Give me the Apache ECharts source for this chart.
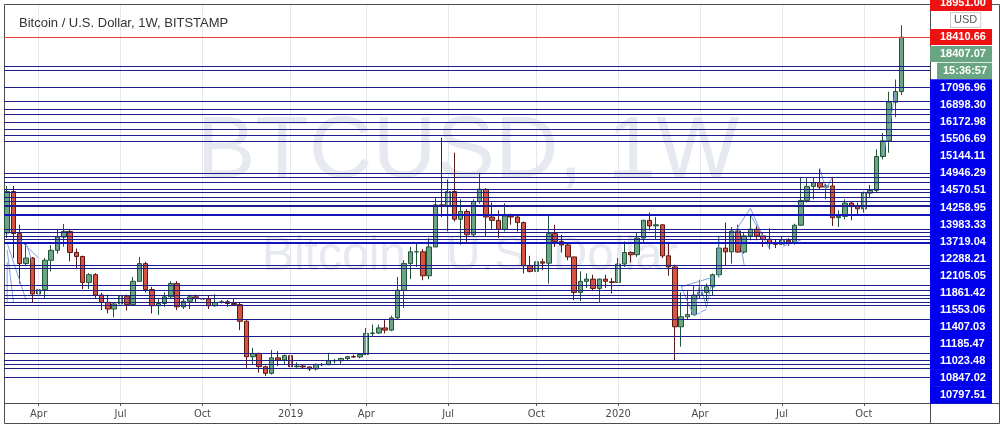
<!DOCTYPE html>
<html><head><meta charset="utf-8">
<script src="https://cdn.jsdelivr.net/npm/echarts@6/dist/echarts.min.js"></script>
<style>html,body{margin:0;padding:0;background:#fff}#c{width:1005px;height:428px}</style>
</head><body><div id="c"></div>
<script>
// ---------- DATA ----------
const firstWeek = '2018-02-26';        // Monday of first weekly bar
const emptyWeeksRight = 4;             // blank space after last bar
// weekly candles [open, close, low, high]
const ohlc = [
 [9580,11450,9350,11700],[11450,9550,8450,11700],[9550,8200,7300,9950],[8200,8450,8100,9180],[8450,6830,6450,8500],
 [6830,7020,6450,7500],[7020,8350,6620,8450],[8350,8800,7850,9030],[8800,9400,8650,9750],[9400,9650,8960,9990],
 [9650,8700,8300,9740],[8700,8520,7950,8880],[8520,7350,7050,8560],[7350,7700,7050,7770],[7700,6780,6650,7770],
 [6780,6450,6100,6880],[6450,6150,5950,6800],[6150,6380,5780,6450],[6380,6730,6250,6800],[6730,6350,6080,6800],
 [6350,7400,6300,7600],[7400,8200,7400,8500],[8200,7030,6900,8280],[7030,6300,5950,7150],[6300,6400,5880,6620],
 [6400,6700,6250,6900],[6700,7300,6650,7400],[7300,6250,6100,7410],[6250,6500,6150,6600],[6500,6700,6150,6800],
 [6700,6620,6450,6800],[6620,6600,6450,6700],[6600,6300,6150,6750],[6300,6450,6250,6820],[6450,6480,6400,6550],
 [6480,6400,6250,6560],[6400,6350,6320,6600],[6350,5600,5200,6450],[5600,4000,3500,5650],[4000,4150,3650,4400],
 [4150,3550,3280,4180],[3550,3250,3130,3600],[3250,3950,3200,4300],[3950,3850,3580,4250],[3850,4050,3650,4100],
 [4050,3550,3450,4100],[3550,3580,3500,3750],[3580,3540,3450,3620],[3540,3450,3350,3560],[3450,3650,3380,3700],
 [3650,3640,3570,3720],[3640,3820,3620,4180],[3820,3820,3700,3900],[3820,3920,3680,3950],[3920,4000,3820,4040],
 [4000,3990,3950,4100],[3990,4100,3930,4150],[4100,5050,4090,5300],[5050,5070,4900,5450],[5070,5300,5030,5450],
 [5300,5200,5050,5650],[5200,5750,5150,5850],[5750,7000,5700,7600],[7000,8200,6200,8350],[8200,8730,7500,8950],
 [8730,8730,8050,9090],[8730,7650,7450,8850],[7650,8950,7500,9350],[8950,10850,8950,11200],[10850,10800,10300,13880],
 [10800,11450,9650,12000],[11450,10200,10100,13200],[10200,10550,9050,11100],[10550,9500,9150,10650],[9500,11000,9400,11100],
 [11000,11550,10900,12300],[11550,10300,9450,11600],[10300,10150,9750,10950],[10150,9750,9350,10600],[9750,10350,9650,10920],
 [10350,10300,9950,10450],[10300,10050,9650,10350],[10050,8100,7750,10100],[8100,7850,7800,8550],[7850,8280,7750,8700],
 [8280,8220,7900,8420],[8220,9550,7300,10350],[9550,9200,8950,9950],[9200,9040,8700,9500],[9040,8500,8350,9100],
 [8500,6900,6550,8500],[6900,7400,6500,7850],[7400,7500,7100,7750],[7500,7080,7000,7700],[7080,7500,6430,7520],
 [7500,7400,7100,7700],[7380,7350,6850,7550],[7350,8180,7350,8450],[8180,8700,8050,9200],[8700,8600,8250,8750],
 [8600,9350,8500,9600],[9350,10150,9150,10180],[10150,9900,9700,10500],[9900,9950,9300,10300],[9950,8550,8450,9970],
 [8550,8050,7650,9180],[8050,5350,3850,8150],[5350,5800,4450,6900],[5800,5900,5700,6950],[5900,6780,5850,7200],
 [6780,6900,6650,7470],[6900,7150,6500,7300],[7150,7700,6750,7750],[7700,8900,7600,9460],[8900,8730,8100,10050],
 [8730,9670,8200,9850],[9670,8720,8700,9950],[8720,9450,8650,9600],[9450,9750,9250,10400],[9750,9450,9250,9950],
 [9450,9300,8950,9600],[9300,9100,8850,9790],[9100,9070,8900,9300],[9070,9250,9050,9450],[9250,9160,9000,9350],
 [9160,9930,9050,10000],[9930,11050,9900,12100],[11050,11680,10950,12050],[11680,11850,11100,12100],[11850,11650,11550,12480],
 [11650,11700,11100,11800],[11700,10270,9900,12050],[10270,10330,9850,10600],[10330,10930,10200,11100],[10930,10770,10150,11000],
 [10770,10670,10400,10950],[10670,11380,10500,11450],[11380,11500,11200,11750],[11500,13030,11400,13350],[13030,13740,12900,14100],
 [13740,15480,13200,15950],[15480,15960,14800,16500],[15960,18407,15800,18950]
];
// x-axis tick labels (week index from firstWeek)
const tickWeeks  = [5, 18, 31, 45, 57, 70, 84, 97, 110, 123, 136];
const tickLabels = ['Apr','Jul','Oct','2019','Apr','Jul','Oct','2020','Apr','Jul','Oct'];
// horizontal price lines
const redLine = 18410.66;
const thinLines = [17096.96,16898.30,16172.98,15506.69,15144.11,14946.29,14570.51,14258.95,13983.33,13719.04,
  12288.21,12105.05,11861.42,11553.06,11407.03,11185.47,11023.48,10847.02,10797.51,
  9750,9625,9445,9300,8140,7980,7235,6985,6785,6625,6470,6335,5690,4935,4155,3850,3660,3480,3055];
const thickLines = [10400, 9130];
// right price-scale labels (top to bottom)
const scaleLabels = ['18951.00','USD','18410.66','18407.07','15:36:57','17096.96','16898.30','16172.98','15506.69',
  '15144.11','14946.29','14570.51','14258.95','13983.33','13719.04','12288.21','12105.05','11861.42','11553.06',
  '11407.03','11185.47','11023.48','10847.02','10797.51'];
const scaleKinds = ['red','usd','red','green','timer','blue','blue','blue','blue','blue','blue','blue','blue','blue',
  'blue','blue','blue','blue','blue','blue','blue','blue','blue','blue'];
// hand-drawn trend lines [weekIndex, price]
const drawings = [
  [[-0.34,9129],[2.83,6558]], [[-0.34,8813],[0.77,6468]], [[-0.34,8272],[0.29,6423]],
  [[1.72,9264],[4.74,8452]], [[2.68,9129],[4.1,8272]],
  [[106.8,7158],[112.1,7582]], [[108.7,5836],[111.1,6139]],
  [[106.8,7158],[108.7,5836],[110.3,7370],[111.4,6197],[112.1,7582]],
  [[112.6,7550],[113.4,9399]], [[115.0,9413],[118.2,10694],[119.5,9413]],
  [[115.8,9864],[117.1,8137]], [[118.2,10392],[121.2,8890]], [[122.5,8962],[125.6,9264]],
  [[129.3,12498],[130.0,11519],[130.9,12119]],
  [[139.0,13098],[140.2,14314],[141.3,15939]]
];

// ---------- BUILD ----------
const cats = [];
{
  const d0 = new Date(firstWeek + 'T00:00:00Z');
  for (let k = 0; k < ohlc.length + emptyWeeksRight; k++) {
    const d = new Date(d0.getTime() + k * 7 * 86400000);
    cats.push(d.toISOString().slice(0, 10));
  }
}
const tickMap = {};
tickWeeks.forEach((w, k) => tickMap[w] = tickLabels[k]);

const FONT = "'Liberation Sans', Arial, sans-serif";
const boxBase = {fontFamily: FONT, fontSize: 11, fontWeight: 'bold', color: '#ffffff',
  height: 17.6, lineHeight: 17.6, padding: [0, 0, 0, 10], align: 'left', verticalAlign: 'middle'};

const series = [
  { // vertical grid lines
    type: 'line', data: [], xAxisIndex: 0, yAxisIndex: 0, z: 1, silent: true,
    markLine: {silent: true, symbol: ['none','none'], label: {show: false}, animation: false,
      lineStyle: {color: '#e6e7ee', width: 1, type: 'solid'},
      data: tickWeeks.map(w => ({xAxis: cats[w]}))}
  },
  {
    type: 'candlestick', data: ohlc, xAxisIndex: 0, yAxisIndex: 0, z: 3, barWidth: 5,
    itemStyle: {color: '#6ba583', color0: '#d75442', borderColor: '#225437', borderColor0: '#5b1a13', borderWidth: 1}
  },
  {
    type: 'line', data: [], z: 5, silent: true,
    markLine: {silent: true, symbol: ['none','none'], label: {show: false}, animation: false,
      lineStyle: {color: '#1e1c8c', width: 1, type: 'solid'},
      data: thinLines.map(p => ({yAxis: p}))}
  },
  {
    type: 'line', data: [], z: 5, silent: true,
    markLine: {silent: true, symbol: ['none','none'], label: {show: false}, animation: false,
      lineStyle: {color: '#1414bd', width: 2, type: 'solid'},
      data: thickLines.map(p => ({yAxis: p}))}
  },
  {
    type: 'line', data: [], z: 5, silent: true,
    markLine: {silent: true, symbol: ['none','none'], label: {show: false}, animation: false,
      lineStyle: {color: '#e8413a', width: 1, type: 'solid'},
      data: [{yAxis: redLine}]}
  },
  {type: 'scatter', data: [], xAxisIndex: 1, yAxisIndex: 1}
];
drawings.forEach(seg => series.push({
  type: 'line', data: seg, xAxisIndex: 0, yAxisIndex: 0, z: 4, silent: true, symbol: 'none',
  lineStyle: {color: '#7fa3e3', width: 1}
}));

const option = {
  animation: false,
  backgroundColor: '#ffffff',
  grid: [
    {left: 4, top: 5, width: 926, height: 398, outerBoundsMode: 'none', containLabel: false},
    {left: 4, top: 2.9, width: 926, height: 392.1, outerBoundsMode: 'none', containLabel: false}
  ],
  xAxis: [
    {type: 'category', gridIndex: 0, data: cats, boundaryGap: true,
     axisLine: {show: false},
     axisTick: {show: true, alignWithLabel: true, length: 3, interval: (i) => tickMap[i] !== undefined,
       lineStyle: {color: '#555'}},
     axisLabel: {interval: (i) => tickMap[i] !== undefined, formatter: (v, i) => tickMap[i] || '',
       color: '#4a4a4a', fontSize: 11, margin: 6,
       fontFamily: "'DejaVu Sans Condensed', 'Liberation Sans Narrow', 'Liberation Sans', sans-serif"},
     splitLine: {show: false}},
    {type: 'value', gridIndex: 1, show: false, min: 0, max: 1}
  ],
  yAxis: [
    {type: 'value', gridIndex: 0, min: 1912.7, max: 19862.5, show: false, splitLine: {show: false}},
    {type: 'category', gridIndex: 1, position: 'right', inverse: true, data: scaleLabels, z: 8,
     boundaryGap: false,
     axisLine: {show: false}, axisTick: {show: false}, splitLine: {show: false},
     axisLabel: {
       interval: 0, margin: 0, showMinLabel: true, showMaxLabel: true,
       formatter: (v, i) => {
         const k = scaleKinds[i];
         if (k === 'usd') return '{sp| }{usd|' + v + '}';
         if (k === 'timer') return '{sp7| }{tm|' + v + '}';
         if (k === 'red') return '{r|' + v + '}';
         if (k === 'green') return '{g|' + v + '}';
         return '{b|' + v + '}';
       },
       rich: {
         b: Object.assign({}, boxBase, {backgroundColor: '#0000ee', width: 52}),
         r: Object.assign({}, boxBase, {backgroundColor: '#ee1111', width: 52, height: 16, lineHeight: 16}),
         g: Object.assign({}, boxBase, {backgroundColor: '#6aa583', width: 52, height: 16, lineHeight: 16}),
         tm: Object.assign({}, boxBase, {backgroundColor: '#6aa583', width: 49, height: 16.5, lineHeight: 16.5, padding: [0,0,0,6]}),
         sp7: {width: 7, fontSize: 11},
         sp: {width: 21, fontSize: 11},
         usd: {fontFamily: FONT, fontSize: 11, color: '#555', backgroundColor: '#fff', borderColor: '#cccccc',
               borderWidth: 1, padding: [2, 3, 1, 3]}
       }
     }}
  ],
  title: [{text: 'Bitcoin / U.S. Dollar, 1W, BITSTAMP', left: 14, top: 12, z: 6,
    textStyle: {fontFamily: FONT, fontSize: 13, fontWeight: 'normal', color: '#333'}}],
  graphic: [
    {type: 'text', z: 0, silent: true, style: {text: 'BTCUSD, 1W', x: 468, y: 153, textAlign: 'center', textVerticalAlign: 'middle',
      font: "88px 'Liberation Sans', Arial, sans-serif", fill: '#e7e9f1'}},
    {type: 'text', z: 0, silent: true, style: {text: 'Bitcoin / U.S. Dollar', x: 470, y: 257, textAlign: 'center', textVerticalAlign: 'middle',
      font: "48px 'Liberation Sans', Arial, sans-serif", fill: '#e7e9f1'}},
    {type: 'rect', z: 1, silent: true, shape: {x: 4.5, y: 4.5, width: 995, height: 419}, style: {fill: 'none', stroke: '#4d4d4d', lineWidth: 1}},
    {type: 'line', z: 1, silent: true, shape: {x1: 930.5, y1: 4.5, x2: 930.5, y2: 423.5}, style: {stroke: '#4d4d4d', lineWidth: 1}},
    {type: 'line', z: 1, silent: true, shape: {x1: 4.5, y1: 403.5, x2: 999.5, y2: 403.5}, style: {stroke: '#4d4d4d', lineWidth: 1}}
  ],
  series: series
};
const chart = echarts.init(document.getElementById('c'), null, {renderer: 'canvas'});
chart.setOption(option);
</script>
</body></html>
